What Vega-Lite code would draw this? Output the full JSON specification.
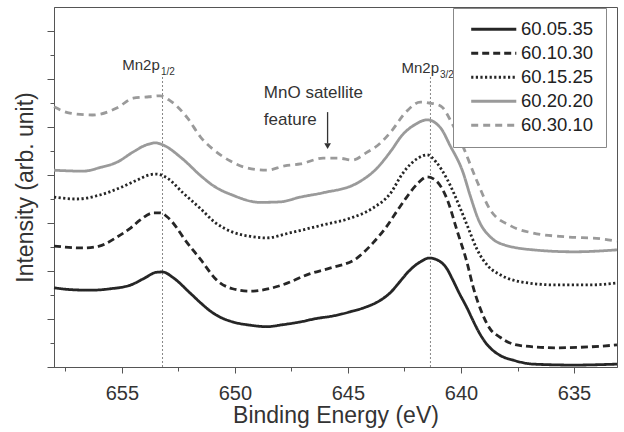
{
  "$schema": "https://vega.github.io/schema/vega-lite/v6.json",
  "width": 563,
  "height": 360,
  "autosize": "none",
  "padding": {"left": 54, "top": 7, "right": 7, "bottom": 65},
  "background": "white",
  "config": {
    "font": "Liberation Sans",
    "view": {"stroke": "#555", "strokeWidth": 1},
    "axis": {"grid": false, "domainColor": "#555", "tickColor": "#555", "labelColor": "#333", "titleColor": "#333", "titleFontWeight": "normal"}
  },
  "layer": [
    {
      "data": {"values": [
        {"e": 653.2, "y": 0, "y2": 6.05},
        {"e": 641.35, "y": 0, "y2": 6.08}
      ]},
      "mark": {"type": "rule", "color": "#888", "strokeDash": [2, 2], "strokeWidth": 1},
      "encoding": {
        "x": {"field": "e", "type": "quantitative", "scale": {"domain": [633.1, 658], "reverse": true, "nice": false, "zero": false},
              "axis": {"orient": "bottom", "values": [637.5, 642.5, 647.5, 652.5, 657.5], "labels": false, "domain": false, "tickSize": 4, "title": null}},
        "y": {"field": "y", "type": "quantitative", "scale": {"domain": [0, 7.5], "nice": false, "zero": false},
              "axis": {"orient": "left", "values": [0.5, 1.5, 2.5, 3.5, 4.5, 5.5, 6.5], "labels": false, "domain": false, "tickSize": 4, "title": null}},
        "y2": {"field": "y2"}
      }
    },
    {
      "data": {"values": [
        {"s": "60.05.35", "e": 658.0, "i": 1.65}, {"s": "60.05.35", "e": 657.2, "i": 1.61}, {"s": "60.05.35", "e": 656.4, "i": 1.60}, {"s": "60.05.35", "e": 655.5, "i": 1.63}, {"s": "60.05.35", "e": 654.6, "i": 1.71}, {"s": "60.05.35", "e": 654.0, "i": 1.85}, {"s": "60.05.35", "e": 653.5, "i": 1.97}, {"s": "60.05.35", "e": 653.2, "i": 1.98}, {"s": "60.05.35", "e": 652.7, "i": 1.85}, {"s": "60.05.35", "e": 652.0, "i": 1.55}, {"s": "60.05.35", "e": 651.5, "i": 1.33}, {"s": "60.05.35", "e": 651.1, "i": 1.17}, {"s": "60.05.35", "e": 650.7, "i": 1.05}, {"s": "60.05.35", "e": 650.1, "i": 0.94}, {"s": "60.05.35", "e": 649.3, "i": 0.87}, {"s": "60.05.35", "e": 648.6, "i": 0.84}, {"s": "60.05.35", "e": 647.9, "i": 0.88}, {"s": "60.05.35", "e": 647.1, "i": 0.94}, {"s": "60.05.35", "e": 646.4, "i": 1.01}, {"s": "60.05.35", "e": 645.7, "i": 1.06}, {"s": "60.05.35", "e": 644.9, "i": 1.15}, {"s": "60.05.35", "e": 644.2, "i": 1.25}, {"s": "60.05.35", "e": 643.6, "i": 1.38}, {"s": "60.05.35", "e": 643.1, "i": 1.56}, {"s": "60.05.35", "e": 642.7, "i": 1.78}, {"s": "60.05.35", "e": 642.3, "i": 2.00}, {"s": "60.05.35", "e": 641.8, "i": 2.19}, {"s": "60.05.35", "e": 641.4, "i": 2.27}, {"s": "60.05.35", "e": 640.9, "i": 2.19}, {"s": "60.05.35", "e": 640.6, "i": 2.03}, {"s": "60.05.35", "e": 640.4, "i": 1.85}, {"s": "60.05.35", "e": 640.1, "i": 1.56}, {"s": "60.05.35", "e": 639.7, "i": 1.20}, {"s": "60.05.35", "e": 639.5, "i": 1.00}, {"s": "60.05.35", "e": 639.2, "i": 0.72}, {"s": "60.05.35", "e": 638.9, "i": 0.50}, {"s": "60.05.35", "e": 638.6, "i": 0.35}, {"s": "60.05.35", "e": 638.3, "i": 0.25}, {"s": "60.05.35", "e": 637.6, "i": 0.13}, {"s": "60.05.35", "e": 636.8, "i": 0.06}, {"s": "60.05.35", "e": 635.0, "i": 0.04}, {"s": "60.05.35", "e": 633.1, "i": 0.06},
        {"s": "60.10.30", "e": 658.0, "i": 2.52}, {"s": "60.10.30", "e": 656.7, "i": 2.48}, {"s": "60.10.30", "e": 656.0, "i": 2.52}, {"s": "60.10.30", "e": 655.2, "i": 2.71}, {"s": "60.10.30", "e": 654.6, "i": 2.90}, {"s": "60.10.30", "e": 654.2, "i": 3.06}, {"s": "60.10.30", "e": 653.6, "i": 3.21}, {"s": "60.10.30", "e": 653.3, "i": 3.21}, {"s": "60.10.30", "e": 653.0, "i": 3.13}, {"s": "60.10.30", "e": 652.6, "i": 2.92}, {"s": "60.10.30", "e": 652.3, "i": 2.71}, {"s": "60.10.30", "e": 651.5, "i": 2.23}, {"s": "60.10.30", "e": 650.8, "i": 1.81}, {"s": "60.10.30", "e": 650.1, "i": 1.63}, {"s": "60.10.30", "e": 649.3, "i": 1.58}, {"s": "60.10.30", "e": 648.6, "i": 1.62}, {"s": "60.10.30", "e": 647.9, "i": 1.71}, {"s": "60.10.30", "e": 646.7, "i": 1.94}, {"s": "60.10.30", "e": 645.8, "i": 2.06}, {"s": "60.10.30", "e": 644.6, "i": 2.27}, {"s": "60.10.30", "e": 643.9, "i": 2.58}, {"s": "60.10.30", "e": 643.3, "i": 2.92}, {"s": "60.10.30", "e": 642.8, "i": 3.27}, {"s": "60.10.30", "e": 642.4, "i": 3.54}, {"s": "60.10.30", "e": 641.9, "i": 3.83}, {"s": "60.10.30", "e": 641.5, "i": 3.96}, {"s": "60.10.30", "e": 641.1, "i": 3.88}, {"s": "60.10.30", "e": 640.6, "i": 3.48}, {"s": "60.10.30", "e": 640.18, "i": 2.85}, {"s": "60.10.30", "e": 639.73, "i": 2.17}, {"s": "60.10.30", "e": 639.47, "i": 1.68}, {"s": "60.10.30", "e": 639.03, "i": 1.08}, {"s": "60.10.30", "e": 638.72, "i": 0.80}, {"s": "60.10.30", "e": 638.27, "i": 0.62}, {"s": "60.10.30", "e": 637.83, "i": 0.50}, {"s": "60.10.30", "e": 637.26, "i": 0.44}, {"s": "60.10.30", "e": 635.75, "i": 0.40}, {"s": "60.10.30", "e": 634.29, "i": 0.42}, {"s": "60.10.30", "e": 633.1, "i": 0.46},
        {"s": "60.15.25", "e": 658.0, "i": 3.54}, {"s": "60.15.25", "e": 657.0, "i": 3.50}, {"s": "60.15.25", "e": 656.0, "i": 3.58}, {"s": "60.15.25", "e": 655.0, "i": 3.75}, {"s": "60.15.25", "e": 654.3, "i": 3.90}, {"s": "60.15.25", "e": 653.8, "i": 4.00}, {"s": "60.15.25", "e": 653.5, "i": 4.02}, {"s": "60.15.25", "e": 653.0, "i": 3.94}, {"s": "60.15.25", "e": 652.3, "i": 3.63}, {"s": "60.15.25", "e": 651.5, "i": 3.29}, {"s": "60.15.25", "e": 650.9, "i": 3.02}, {"s": "60.15.25", "e": 650.1, "i": 2.81}, {"s": "60.15.25", "e": 649.3, "i": 2.72}, {"s": "60.15.25", "e": 648.6, "i": 2.69}, {"s": "60.15.25", "e": 647.6, "i": 2.79}, {"s": "60.15.25", "e": 646.1, "i": 2.96}, {"s": "60.15.25", "e": 644.9, "i": 3.10}, {"s": "60.15.25", "e": 643.9, "i": 3.31}, {"s": "60.15.25", "e": 643.1, "i": 3.63}, {"s": "60.15.25", "e": 642.6, "i": 4.02}, {"s": "60.15.25", "e": 641.9, "i": 4.35}, {"s": "60.15.25", "e": 641.5, "i": 4.42}, {"s": "60.15.25", "e": 641.1, "i": 4.27}, {"s": "60.15.25", "e": 640.6, "i": 3.90}, {"s": "60.15.25", "e": 640.0, "i": 3.27}, {"s": "60.15.25", "e": 639.7, "i": 2.92}, {"s": "60.15.25", "e": 639.3, "i": 2.46}, {"s": "60.15.25", "e": 638.8, "i": 2.10}, {"s": "60.15.25", "e": 638.3, "i": 1.93}, {"s": "60.15.25", "e": 638.0, "i": 1.86}, {"s": "60.15.25", "e": 637.3, "i": 1.77}, {"s": "60.15.25", "e": 635.8, "i": 1.71}, {"s": "60.15.25", "e": 634.3, "i": 1.71}, {"s": "60.15.25", "e": 633.1, "i": 1.75},
        {"s": "60.20.20", "e": 658.0, "i": 4.10}, {"s": "60.20.20", "e": 656.7, "i": 4.08}, {"s": "60.20.20", "e": 656.0, "i": 4.15}, {"s": "60.20.20", "e": 655.2, "i": 4.27}, {"s": "60.20.20", "e": 654.5, "i": 4.48}, {"s": "60.20.20", "e": 653.9, "i": 4.63}, {"s": "60.20.20", "e": 653.5, "i": 4.67}, {"s": "60.20.20", "e": 653.2, "i": 4.63}, {"s": "60.20.20", "e": 652.3, "i": 4.33}, {"s": "60.20.20", "e": 651.5, "i": 3.98}, {"s": "60.20.20", "e": 650.9, "i": 3.76}, {"s": "60.20.20", "e": 650.1, "i": 3.58}, {"s": "60.20.20", "e": 648.9, "i": 3.43}, {"s": "60.20.20", "e": 648.0, "i": 3.44}, {"s": "60.20.20", "e": 647.1, "i": 3.54}, {"s": "60.20.20", "e": 646.1, "i": 3.63}, {"s": "60.20.20", "e": 644.6, "i": 3.83}, {"s": "60.20.20", "e": 643.7, "i": 4.15}, {"s": "60.20.20", "e": 643.1, "i": 4.50}, {"s": "60.20.20", "e": 642.6, "i": 4.83}, {"s": "60.20.20", "e": 642.0, "i": 5.06}, {"s": "60.20.20", "e": 641.5, "i": 5.15}, {"s": "60.20.20", "e": 640.9, "i": 4.98}, {"s": "60.20.20", "e": 640.5, "i": 4.63}, {"s": "60.20.20", "e": 639.9, "i": 4.04}, {"s": "60.20.20", "e": 639.6, "i": 3.58}, {"s": "60.20.20", "e": 639.2, "i": 3.04}, {"s": "60.20.20", "e": 638.7, "i": 2.71}, {"s": "60.20.20", "e": 638.3, "i": 2.58}, {"s": "60.20.20", "e": 636.8, "i": 2.44}, {"s": "60.20.20", "e": 635.0, "i": 2.40}, {"s": "60.20.20", "e": 633.1, "i": 2.44},
        {"s": "60.30.10", "e": 658.0, "i": 5.42}, {"s": "60.30.10", "e": 657.3, "i": 5.29}, {"s": "60.30.10", "e": 656.3, "i": 5.25}, {"s": "60.30.10", "e": 655.2, "i": 5.40}, {"s": "60.30.10", "e": 654.5, "i": 5.60}, {"s": "60.30.10", "e": 653.8, "i": 5.63}, {"s": "60.30.10", "e": 653.3, "i": 5.65}, {"s": "60.30.10", "e": 652.9, "i": 5.56}, {"s": "60.30.10", "e": 652.1, "i": 5.19}, {"s": "60.30.10", "e": 651.5, "i": 4.78}, {"s": "60.30.10", "e": 651.0, "i": 4.55}, {"s": "60.30.10", "e": 650.2, "i": 4.29}, {"s": "60.30.10", "e": 649.5, "i": 4.15}, {"s": "60.30.10", "e": 648.6, "i": 4.10}, {"s": "60.30.10", "e": 647.8, "i": 4.19}, {"s": "60.30.10", "e": 647.1, "i": 4.23}, {"s": "60.30.10", "e": 646.1, "i": 4.35}, {"s": "60.30.10", "e": 645.4, "i": 4.35}, {"s": "60.30.10", "e": 644.8, "i": 4.31}, {"s": "60.30.10", "e": 644.2, "i": 4.46}, {"s": "60.30.10", "e": 643.6, "i": 4.65}, {"s": "60.30.10", "e": 643.1, "i": 4.90}, {"s": "60.30.10", "e": 642.4, "i": 5.33}, {"s": "60.30.10", "e": 641.8, "i": 5.52}, {"s": "60.30.10", "e": 641.4, "i": 5.50}, {"s": "60.30.10", "e": 640.9, "i": 5.44}, {"s": "60.30.10", "e": 640.4, "i": 5.08}, {"s": "60.30.10", "e": 639.9, "i": 4.58}, {"s": "60.30.10", "e": 639.3, "i": 3.88}, {"s": "60.30.10", "e": 638.7, "i": 3.27}, {"s": "60.30.10", "e": 637.8, "i": 2.94}, {"s": "60.30.10", "e": 636.8, "i": 2.79}, {"s": "60.30.10", "e": 635.3, "i": 2.71}, {"s": "60.30.10", "e": 633.8, "i": 2.67}, {"s": "60.30.10", "e": 633.1, "i": 2.62}
      ]},
      "mark": {"type": "line", "strokeWidth": 2.8, "interpolate": "monotone"},
      "encoding": {
        "x": {"field": "e", "type": "quantitative", "scale": {"domain": [633.1, 658], "reverse": true, "nice": false, "zero": false},
              "axis": {"orient": "bottom", "values": [635, 640, 645, 650, 655], "format": "d", "tickSize": 6, "labelFontSize": 20, "labelPadding": 10, "title": "Binding Energy (eV)", "titleFontSize": 23, "titlePadding": 1}},
        "y": {"field": "i", "type": "quantitative", "scale": {"domain": [0, 7.5], "nice": false, "zero": false},
              "axis": {"orient": "left", "values": [0, 1, 2, 3, 4, 5, 6, 7], "labels": false, "tickSize": 7, "title": "Intensity (arb. unit)", "titleFontSize": 23, "titlePadding": 9}},
        "color": {"field": "s", "type": "nominal",
                  "scale": {"domain": ["60.05.35", "60.10.30", "60.15.25", "60.20.20", "60.30.10"], "range": ["#262626", "#262626", "#262626", "#9a9a9a", "#9a9a9a"]},
                  "legend": {"orient": "none", "legendX": 399, "legendY": 1, "direction": "vertical", "title": null, "padding": 12, "rowPadding": 5,
                             "symbolType": "M-4.1,0H4.1", "symbolSize": 121, "symbolStrokeWidth": 3, "symbolOffset": 19.5, "labelOffset": 18,
                             "labelFontSize": 18.5, "labelColor": "#222", "labelExpr": "datum.label + '   '", "strokeColor": "#888", "fillColor": "white"}},
        "strokeDash": {"field": "s", "type": "nominal",
                       "scale": {"domain": ["60.05.35", "60.10.30", "60.15.25", "60.20.20", "60.30.10"], "range": [[1, 0], [7, 4], [2.2, 2.4], [1, 0], [7, 5]]},
                       "legend": {"orient": "none", "legendX": 399, "legendY": 1, "direction": "vertical", "title": null, "padding": 12, "rowPadding": 5,
                             "symbolType": "M-4.1,0H4.1", "symbolSize": 121, "symbolStrokeWidth": 3, "symbolOffset": 19.5, "labelOffset": 18,
                             "labelFontSize": 18.5, "labelColor": "#222", "labelExpr": "datum.label + '   '", "strokeColor": "#888", "fillColor": "white"}}
      }
    },
    {
      "data": {"values": [
        {"e": 653.32, "y": 6.19, "t": "Mn2p"},
        {"e": 640.97, "y": 6.125, "t": "Mn2p"}
      ]},
      "mark": {"type": "text", "align": "right", "baseline": "alphabetic", "fontSize": 15, "color": "#333"},
      "encoding": {
        "x": {"field": "e", "type": "quantitative", "axis": null},
        "y": {"field": "y", "type": "quantitative", "axis": null},
        "text": {"field": "t"}
      }
    },
    {
      "data": {"values": [
        {"e": 653.27, "y": 6.08, "t": "1/2"},
        {"e": 640.93, "y": 6.02, "t": "3/2"}
      ]},
      "mark": {"type": "text", "align": "left", "baseline": "alphabetic", "fontSize": 10, "color": "#333"},
      "encoding": {
        "x": {"field": "e", "type": "quantitative", "axis": null},
        "y": {"field": "y", "type": "quantitative", "axis": null},
        "text": {"field": "t"}
      }
    },
    {
      "data": {"values": [
        {"e": 648.72, "y": 5.60, "t": "MnO satellite"},
        {"e": 648.72, "y": 5.04, "t": "feature"}
      ]},
      "mark": {"type": "text", "align": "left", "baseline": "alphabetic", "fontSize": 17, "color": "#333"},
      "encoding": {
        "x": {"field": "e", "type": "quantitative", "axis": null},
        "y": {"field": "y", "type": "quantitative", "axis": null},
        "text": {"field": "t"}
      }
    },
    {
      "data": {"values": [{"e": 645.9, "y": 5.31, "y2": 4.66}]},
      "mark": {"type": "rule", "color": "#333", "strokeWidth": 1.3},
      "encoding": {
        "x": {"field": "e", "type": "quantitative", "axis": null},
        "y": {"field": "y", "type": "quantitative", "axis": null},
        "y2": {"field": "y2"}
      }
    },
    {
      "data": {"values": [{"e": 645.9, "y": 4.60}]},
      "mark": {"type": "point", "shape": "triangle-down", "filled": true, "size": 45, "color": "#333", "opacity": 1},
      "encoding": {
        "x": {"field": "e", "type": "quantitative", "axis": null},
        "y": {"field": "y", "type": "quantitative", "axis": null}
      }
    }
  ],
  "resolve": {"axis": {"x": "independent", "y": "independent"}}
}
